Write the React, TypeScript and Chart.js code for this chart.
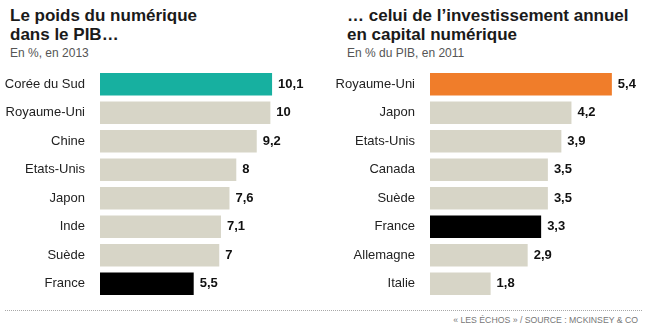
import React, { useEffect, useRef } from "react";
import { Chart, registerables } from "chart.js";

Chart.register(...registerables);

const leftCategories = ["Corée du Sud", "Royaume-Uni", "Chine", "Etats-Unis", "Japon", "Inde", "Suède", "France"];
const leftValues = [10.1, 10, 9.2, 8, 7.6, 7.1, 7, 5.5];
const leftHighlight = "Corée du Sud";

const rightCategories = ["Royaume-Uni", "Japon", "Etats-Unis", "Canada", "Suède", "France", "Allemagne", "Italie"];
const rightValues = [5.4, 4.2, 3.9, 3.5, 3.5, 3.3, 2.9, 1.8];
const rightHighlight = "Royaume-Uni";

const FONT = '"Liberation Sans", Arial, Helvetica, sans-serif';
const BEIGE = "#d7d5c7";
const FRANCE = "#000000";

const fmt = (v: number) => String(v).replace(".", ",");

const valueLabels = {
  id: "valueLabels",
  afterDatasetsDraw(chart: any) {
    const ctx = chart.ctx;
    const meta = chart.getDatasetMeta(0);
    const data = chart.data.datasets[0].data as number[];
    ctx.save();
    ctx.font = `bold 13px ${FONT}`;
    ctx.fillStyle = "#111111";
    ctx.textAlign = "left";
    ctx.textBaseline = "middle";
    meta.data.forEach((bar: any, i: number) => {
      ctx.fillText(fmt(data[i]), bar.x + 6, bar.y);
    });
    ctx.restore();
  },
};

function BarPanel(props: {
  categories: string[];
  values: number[];
  highlight: string;
  highlightColor: string;
  xMax: number;
  width: number;
  height: number;
}) {
  const ref = useRef<HTMLCanvasElement>(null);
  useEffect(() => {
    if (!ref.current) return;
    const colors = props.categories.map((c) =>
      c === props.highlight ? props.highlightColor : c === "France" ? FRANCE : BEIGE
    );
    const chart = new Chart(ref.current, {
      type: "bar",
      data: {
        labels: props.categories,
        datasets: [
          {
            data: props.values,
            backgroundColor: colors,
            borderWidth: 0,
            barPercentage: 0.79,
            categoryPercentage: 1,
          },
        ],
      },
      options: {
        indexAxis: "y",
        responsive: false,
        animation: false,
        layout: { padding: 0 },
        plugins: { legend: { display: false }, tooltip: { enabled: false }, title: { display: false } },
        scales: {
          x: { display: false, min: 0, max: props.xMax },
          y: {
            grid: { display: false },
            border: { display: false },
            ticks: { color: "#222222", font: { family: FONT, size: 13 }, padding: 7 },
            afterFit(scale: any) {
              scale.width = 100;
              scale.paddingTop = 0;
              scale.paddingBottom = 0;
            },
          },
        },
      },
      plugins: [valueLabels],
    });
    return () => chart.destroy();
  }, []);
  return <canvas ref={ref} width={props.width} height={props.height} style={{ display: "block" }} />;
}

const titleStyle: React.CSSProperties = {
  position: "absolute",
  fontFamily: FONT,
  fontWeight: "bold",
  fontSize: 17,
  lineHeight: "19px",
  color: "#1a1a1a",
  whiteSpace: "nowrap",
};
const subStyle: React.CSSProperties = {
  position: "absolute",
  fontFamily: FONT,
  fontSize: 12,
  lineHeight: "14px",
  color: "#555555",
  whiteSpace: "nowrap",
};

export default function App() {
  return (
    <div style={{ position: "absolute", left: 0, top: 0, width: 657, height: 330, background: "#ffffff", overflow: "hidden" }}>
      <div style={{ ...titleStyle, left: 10, top: 6 }}>
        Le poids du numérique
        <br />
        dans le PIB…
      </div>
      <div style={{ ...subStyle, left: 10, top: 46 }}>En %, en 2013</div>
      <div style={{ ...titleStyle, left: 347, top: 6 }}>
        … celui de l’investissement annuel
        <br />
        en capital numérique
      </div>
      <div style={{ ...subStyle, left: 347, top: 46 }}>En % du PIB, en 2011</div>

      <div style={{ position: "absolute", left: 0, top: 70, width: 330, height: 228 }}>
        <BarPanel categories={leftCategories} values={leftValues} highlight={leftHighlight} highlightColor="#17b0a0" xMax={13.5} width={330} height={228} />
      </div>
      <div style={{ position: "absolute", left: 330, top: 70, width: 327, height: 228 }}>
        <BarPanel categories={rightCategories} values={rightValues} highlight={rightHighlight} highlightColor="#f07d2a" xMax={6.74} width={327} height={228} />
      </div>

      <div style={{ position: "absolute", left: 5, top: 310, width: 637, borderTop: "1px dotted #a8a8a8" }} />
      <div
        style={{
          position: "absolute",
          right: 19,
          top: 315,
          fontFamily: FONT,
          fontSize: 8.7,
          lineHeight: "11px",
          color: "#777777",
          whiteSpace: "nowrap",
        }}
      >
        « LES ÉCHOS » / SOURCE : MCKINSEY &amp; CO
      </div>
    </div>
  );
}
